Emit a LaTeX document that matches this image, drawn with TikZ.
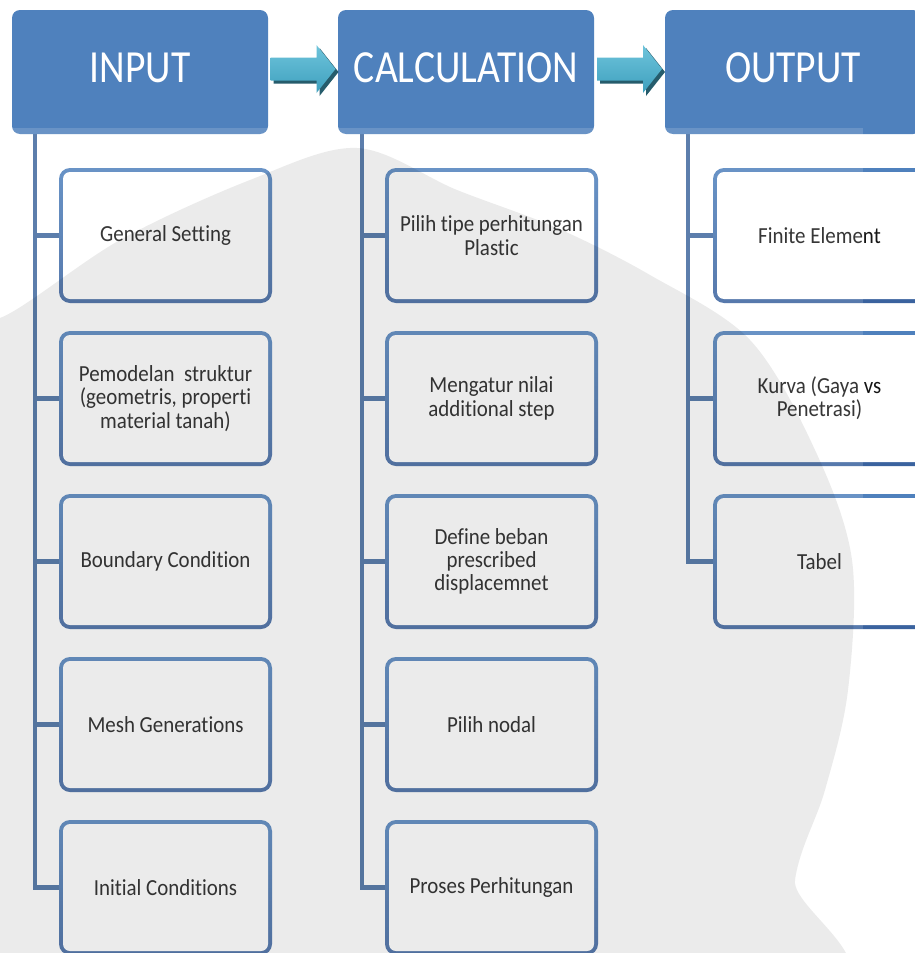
\documentclass[tikz,border=0pt]{standalone}
\usepackage{fontspec}
\setmainfont{Carlito}[Ligatures={NoCommon,NoContextual}]
\newfontfamily\headfont{Carlito}[FakeStretch=0.86,Ligatures={NoCommon,NoContextual}]
\newfontfamily\boxfont{Carlito}[FakeStretch=0.91,Ligatures={NoCommon,NoContextual}]
\usetikzlibrary{calc,backgrounds}
\definecolor{hdrblue}{RGB}{79,129,189}
\definecolor{bordtop}{RGB}{79,129,189}
\definecolor{bordbot}{RGB}{58,98,158}
\definecolor{connblue}{RGB}{64,104,158}
\definecolor{arrtop}{RGB}{110,196,219}
\definecolor{arrbot}{RGB}{62,160,190}
\definecolor{arrshadow}{RGB}{38,92,108}
\definecolor{txtdark}{RGB}{20,20,20}
\tikzset{
  header/.style={fill=hdrblue, rounded corners=8pt, minimum width=256pt,
    minimum height=124pt, inner sep=0pt, text=white,
    font=\headfont\fontsize{46}{50}\selectfont, text depth=8pt},
  childbox/.style={rounded corners=11pt, minimum width=213pt, minimum height=135pt,
    inner sep=2pt, top color=bordtop, bottom color=bordbot, align=center,
    text=txtdark, font=\boxfont\fontsize{23}{23.3}\selectfont,
    path picture={\fill[white, rounded corners=7pt]
      ([shift={(4pt,-4pt)}]path picture bounding box.north west) rectangle
      ([shift={(-4pt,4pt)}]path picture bounding box.south east);}},
  conn/.style={draw=connblue, line width=4.5pt, line join=miter},
  blockarrow/.style={top color=arrtop, bottom color=arrbot},
  arrowshadow/.style={fill=arrshadow}
}
\newcommand\arrowpath{(-32.5,-11.5) -- (13.5,-11.5) -- (13.5,-24) -- (32.5,0) -- (13.5,24) -- (13.5,11.5) -- (-32.5,11.5) -- cycle}
\begin{document}
\begin{tikzpicture}[x=1pt,y=-1pt]
\useasboundingbox (0,0) rectangle (915,953);

% headers
\node[header] (inH) at (140,72) {INPUT};
\node[header] (caH) at (466,72) {CALCULATION};
\node[header] (ouH) at (793,72) {OUTPUT};

% block arrows between headers
\coordinate (arA) at ($(inH.east)!0.5!(caH.west)+(0,-3)$);
\coordinate (arB) at ($(caH.east)!0.5!(ouH.west)+(0,-3)$);
\foreach \c in {arA,arB}{
  \begin{scope}[shift={(\c)}]
    \fill[arrowshadow] [shift={(3,3)}] \arrowpath;
    \shade[blockarrow] \arrowpath;
  \end{scope}
}

% input column
\node[childbox] (in1) at (165.5,235.5) {General Setting};
\node[childbox] (in2) at (165.5,398.5) {Pemodelan~ struktur\\(geometris, properti\\material tanah)};
\node[childbox] (in3) at (165.5,561.5) {Boundary Condition};
\node[childbox] (in4) at (165.5,724.5) {Mesh Generations};
\node[childbox] (in5) at (165.5,887.5) {Initial Conditions};

% calculation column
\node[childbox] (ca1) at (491.5,235.5) {Pilih tipe perhitungan\\Plastic};
\node[childbox] (ca2) at (491.5,398.5) {Mengatur nilai\\additional step};
\node[childbox] (ca3) at (491.5,561.5) {Define beban\\prescribed\\displacemnet};
\node[childbox] (ca4) at (491.5,724.5) {Pilih nodal};
\node[childbox] (ca5) at (491.5,887.5) {Proses Perhitungan};

% output column
\node[childbox] (ou1) at (819.5,235.5) {Finite Element};
\node[childbox] (ou2) at (819.5,398.5) {Kurva (Gaya vs\\Penetrasi)};
\node[childbox] (ou3) at (819.5,561.5) {Tabel};

% connectors (behind the boxes)
\begin{scope}[on background layer]
  \fill[white] (0,0) rectangle (915,953);
  \coordinate (inL) at ($(inH.south west)+(23,0)$);
  \coordinate (caL) at ($(caH.south west)+(24,0)$);
  \coordinate (ouL) at ($(ouH.south west)+(23,0)$);
  \draw[conn] (inL) |- (in5.west);
  \foreach \i in {1,...,4} \draw[conn] (inL |- in\i.west) -- (in\i.west);
  \draw[conn] (caL) |- (ca5.west);
  \foreach \i in {1,...,4} \draw[conn] (caL |- ca\i.west) -- (ca\i.west);
  \draw[conn] (ouL) |- (ou3.west);
  \foreach \i in {1,2} \draw[conn] (ouL |- ou\i.west) -- (ou\i.west);
\end{scope}

% faint watermark
\fill[white, opacity=0.15] (0,128) rectangle (863,953);
\fill[black, opacity=0.08] plot[smooth cycle, tension=0.55] coordinates {
  (-40,300) (0,318) (120,240) (250,180) (357,148) (457,190) (557,228)
  (650,275) (750,340) (815,450) (852,560) (848,690) (825,790) (795,880)
  (795,1000) (-40,1000)};
\end{tikzpicture}
\end{document}
